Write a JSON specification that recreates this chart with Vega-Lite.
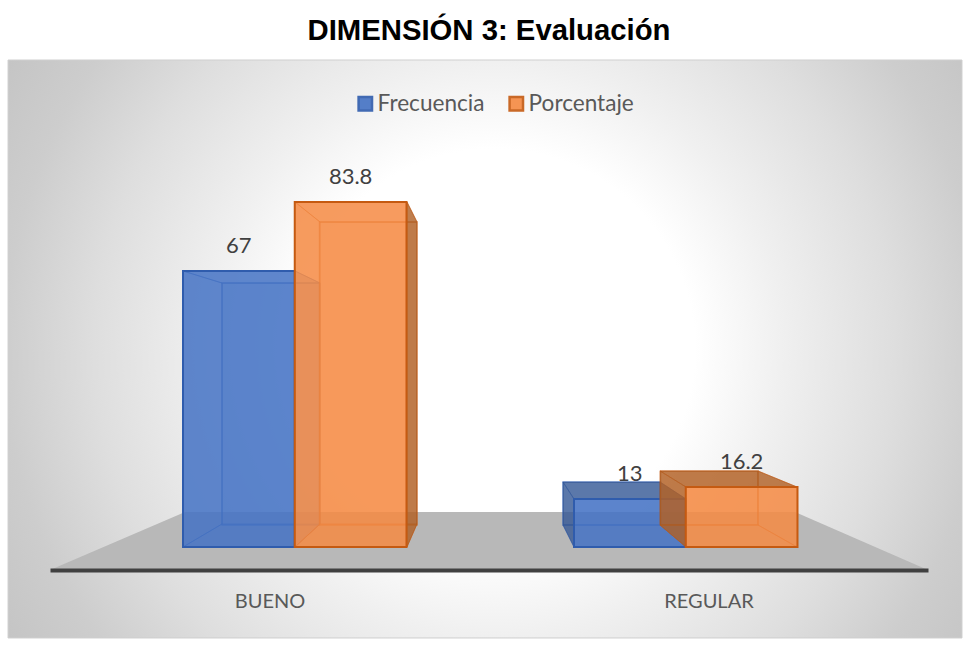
{"$schema":"https://vega.github.io/schema/vega-lite/v6.json","width":878,"height":510,"autosize":"none","padding":{"left":50,"top":60,"right":41,"bottom":76},"background":"#ffffff",
"config":{"view":{"stroke":null},"font":"Lato"},
"datasets":{
"bars":[{"cat":"BUENO","series":"Frecuencia","value":67},{"cat":"BUENO","series":"Porcentaje","value":83.8},{"cat":"REGULAR","series":"Frecuencia","value":13},{"cat":"REGULAR","series":"Porcentaje","value":16.2}],
"heading":[{"u":50,"v":105.7,"label":"DIMENSIÓN 3: Evaluación"}],
"panel":[{"u0":-4.78,"u1":103.87,"v0":-50.2,"v1":136.86}],
"border":[{"u0":-4.78,"u1":103.87,"v0":-13.33,"v1":100}],
"strips":[{"u0":-6,"u1":106,"v0":100,"v1":140},{"u0":-6,"u1":106,"v0":-60,"v1":-13.33}],
"floor":[{"u":0,"v":0,"b":0},{"u":15.38,"v":11.37,"b":0},{"u":84.85,"v":11.37,"b":0},{"u":100,"v":0,"b":0}],
"faces":[
{"cat":"BUENO","series":"Frecuencia","face":"top","k":1,"u":15.15,"v":58.63},{"cat":"BUENO","series":"Frecuencia","face":"top","k":2,"u":27.9,"v":58.63},{"cat":"BUENO","series":"Frecuencia","face":"top","k":3,"u":30.75,"v":56.27},{"cat":"BUENO","series":"Frecuencia","face":"top","k":4,"u":19.59,"v":56.27},
{"cat":"BUENO","series":"Frecuencia","face":"left","k":1,"u":15.15,"v":58.63},{"cat":"BUENO","series":"Frecuencia","face":"left","k":2,"u":19.59,"v":56.27},{"cat":"BUENO","series":"Frecuencia","face":"left","k":3,"u":19.59,"v":9.02},{"cat":"BUENO","series":"Frecuencia","face":"left","k":4,"u":15.15,"v":4.51},
{"cat":"BUENO","series":"Frecuencia","face":"right","k":1,"u":27.9,"v":58.63},{"cat":"BUENO","series":"Frecuencia","face":"right","k":2,"u":30.75,"v":56.27},{"cat":"BUENO","series":"Frecuencia","face":"right","k":3,"u":30.75,"v":9.02},{"cat":"BUENO","series":"Frecuencia","face":"right","k":4,"u":27.9,"v":4.51},
{"cat":"BUENO","series":"Frecuencia","face":"bottom","k":1,"u":15.15,"v":4.51},{"cat":"BUENO","series":"Frecuencia","face":"bottom","k":2,"u":27.9,"v":4.51},{"cat":"BUENO","series":"Frecuencia","face":"bottom","k":3,"u":30.75,"v":9.02},{"cat":"BUENO","series":"Frecuencia","face":"bottom","k":4,"u":19.59,"v":9.02},
{"cat":"BUENO","series":"Porcentaje","face":"top","k":1,"u":27.9,"v":72.16},{"cat":"BUENO","series":"Porcentaje","face":"top","k":2,"u":40.66,"v":72.16},{"cat":"BUENO","series":"Porcentaje","face":"top","k":3,"u":41.8,"v":68.24},{"cat":"BUENO","series":"Porcentaje","face":"top","k":4,"u":30.75,"v":68.24},
{"cat":"BUENO","series":"Porcentaje","face":"left","k":1,"u":27.9,"v":72.16},{"cat":"BUENO","series":"Porcentaje","face":"left","k":2,"u":30.75,"v":68.24},{"cat":"BUENO","series":"Porcentaje","face":"left","k":3,"u":30.75,"v":9.02},{"cat":"BUENO","series":"Porcentaje","face":"left","k":4,"u":27.9,"v":4.51},
{"cat":"BUENO","series":"Porcentaje","face":"right","k":1,"u":40.66,"v":72.16},{"cat":"BUENO","series":"Porcentaje","face":"right","k":2,"u":41.8,"v":68.24},{"cat":"BUENO","series":"Porcentaje","face":"right","k":3,"u":41.8,"v":9.02},{"cat":"BUENO","series":"Porcentaje","face":"right","k":4,"u":40.66,"v":4.51},
{"cat":"BUENO","series":"Porcentaje","face":"bottom","k":1,"u":27.9,"v":4.51},{"cat":"BUENO","series":"Porcentaje","face":"bottom","k":2,"u":40.66,"v":4.51},{"cat":"BUENO","series":"Porcentaje","face":"bottom","k":3,"u":41.8,"v":9.02},{"cat":"BUENO","series":"Porcentaje","face":"bottom","k":4,"u":30.75,"v":9.02},
{"cat":"REGULAR","series":"Frecuencia","face":"top","k":1,"u":59.68,"v":13.92},{"cat":"REGULAR","series":"Frecuencia","face":"top","k":2,"u":72.44,"v":13.92},{"cat":"REGULAR","series":"Frecuencia","face":"top","k":3,"u":69.48,"v":17.25},{"cat":"REGULAR","series":"Frecuencia","face":"top","k":4,"u":58.43,"v":17.25},
{"cat":"REGULAR","series":"Frecuencia","face":"left","k":1,"u":58.43,"v":17.25},{"cat":"REGULAR","series":"Frecuencia","face":"left","k":2,"u":59.68,"v":13.92},{"cat":"REGULAR","series":"Frecuencia","face":"left","k":3,"u":59.68,"v":4.51},{"cat":"REGULAR","series":"Frecuencia","face":"left","k":4,"u":58.43,"v":8.82},
{"cat":"REGULAR","series":"Frecuencia","face":"right","k":1,"u":72.44,"v":13.92},{"cat":"REGULAR","series":"Frecuencia","face":"right","k":2,"u":69.48,"v":17.25},{"cat":"REGULAR","series":"Frecuencia","face":"right","k":3,"u":69.48,"v":8.82},{"cat":"REGULAR","series":"Frecuencia","face":"right","k":4,"u":72.44,"v":4.51},
{"cat":"REGULAR","series":"Frecuencia","face":"bottom","k":1,"u":59.68,"v":4.51},{"cat":"REGULAR","series":"Frecuencia","face":"bottom","k":2,"u":72.44,"v":4.51},{"cat":"REGULAR","series":"Frecuencia","face":"bottom","k":3,"u":69.48,"v":8.82},{"cat":"REGULAR","series":"Frecuencia","face":"bottom","k":4,"u":58.43,"v":8.82},
{"cat":"REGULAR","series":"Porcentaje","face":"top","k":1,"u":72.44,"v":16.27},{"cat":"REGULAR","series":"Porcentaje","face":"top","k":2,"u":85.08,"v":16.27},{"cat":"REGULAR","series":"Porcentaje","face":"top","k":3,"u":80.64,"v":19.41},{"cat":"REGULAR","series":"Porcentaje","face":"top","k":4,"u":69.48,"v":19.41},
{"cat":"REGULAR","series":"Porcentaje","face":"left","k":1,"u":69.48,"v":19.41},{"cat":"REGULAR","series":"Porcentaje","face":"left","k":2,"u":72.44,"v":16.27},{"cat":"REGULAR","series":"Porcentaje","face":"left","k":3,"u":72.44,"v":4.51},{"cat":"REGULAR","series":"Porcentaje","face":"left","k":4,"u":69.48,"v":8.82},
{"cat":"REGULAR","series":"Porcentaje","face":"right","k":1,"u":85.08,"v":16.27},{"cat":"REGULAR","series":"Porcentaje","face":"right","k":2,"u":80.64,"v":19.41},{"cat":"REGULAR","series":"Porcentaje","face":"right","k":3,"u":80.64,"v":8.82},{"cat":"REGULAR","series":"Porcentaje","face":"right","k":4,"u":85.08,"v":4.51},
{"cat":"REGULAR","series":"Porcentaje","face":"bottom","k":1,"u":72.44,"v":4.51},{"cat":"REGULAR","series":"Porcentaje","face":"bottom","k":2,"u":85.08,"v":4.51},{"cat":"REGULAR","series":"Porcentaje","face":"bottom","k":3,"u":80.64,"v":8.82},{"cat":"REGULAR","series":"Porcentaje","face":"bottom","k":4,"u":69.48,"v":8.82}
]},
"resolve":{"scale":{"x":"independent","y":"independent","xOffset":"independent"},"axis":{"x":"independent","y":"independent"}},
"layer":[
{"data":{"name":"panel"},"mark":{"type":"rect","fill":{"gradient":"radial","x1":0.51,"y1":0.5,"r1":0,"x2":0.51,"y2":0.5,"r2":0.6,"stops":[{"offset":0,"color":"#ffffff"},{"offset":0.35,"color":"#ffffff"},{"offset":0.5,"color":"#f0f0f0"},{"offset":0.7,"color":"#dedede"},{"offset":0.857,"color":"#cdcdcd"},{"offset":1,"color":"#c4c4c4"}]}},
"encoding":{"x":{"field":"u0","type":"quantitative","scale":{"domain":[0,100],"nice":false,"zero":false},"axis":null},"x2":{"field":"u1"},"y":{"field":"v0","type":"quantitative","scale":{"domain":[0,100],"nice":false,"zero":false},"axis":null},"y2":{"field":"v1"}}},
{"data":{"name":"strips"},"mark":{"type":"rect","fill":"#ffffff"},
"encoding":{"x":{"field":"u0","type":"quantitative","scale":{"domain":[0,100],"nice":false,"zero":false},"axis":null},"x2":{"field":"u1"},"y":{"field":"v0","type":"quantitative","scale":{"domain":[0,100],"nice":false,"zero":false},"axis":null},"y2":{"field":"v1"}}},
{"data":{"name":"border"},"mark":{"type":"rect","fill":null,"filled":false,"stroke":"#cfcfcf","strokeWidth":1},
"encoding":{"x":{"field":"u0","type":"quantitative","scale":{"domain":[0,100],"nice":false,"zero":false},"axis":null},"x2":{"field":"u1"},"y":{"field":"v0","type":"quantitative","scale":{"domain":[0,100],"nice":false,"zero":false},"axis":null},"y2":{"field":"v1"}}},
{"data":{"name":"heading"},"mark":{"type":"text","font":"Liberation Sans","fontSize":29.3,"fontWeight":"bold","color":"#000000","align":"center","baseline":"middle"},
"encoding":{"text":{"field":"label","type":"nominal"},"x":{"field":"u","type":"quantitative","scale":{"domain":[0,100],"nice":false,"zero":false},"axis":null},"y":{"field":"v","type":"quantitative","scale":{"domain":[0,100],"nice":false,"zero":false},"axis":null}}},
{"data":{"name":"floor"},"mark":{"type":"area","color":"#b8b8b8"},
"encoding":{"x":{"field":"u","type":"quantitative","scale":{"domain":[0,100],"nice":false,"zero":false},"axis":null},"y":{"field":"v","type":"quantitative","scale":{"domain":[0,100],"nice":false,"zero":false},"axis":null},"y2":{"field":"b"}}},
{"data":{"name":"bars"},"mark":{"type":"text","text":" "},
"encoding":{"x":{"field":"cat","type":"nominal","scale":{"domain":["BUENO","REGULAR"]},"axis":{"title":null,"orient":"bottom","ticks":false,"labelAngle":0,"labelFont":"Lato","labelFontSize":20,"labelColor":"#595959","labelPadding":21,"domainColor":"#404040","domainWidth":4,"zindex":1,"grid":false}},"y":{"datum":0,"type":"quantitative","scale":{"domain":[0,100]},"axis":null}}},
{"data":{"name":"bars"},"mark":{"type":"text","dy":-25,"font":"Lato","fontSize":22,"color":"#404040"},
"encoding":{"text":{"field":"value","type":"quantitative"},
"x":{"field":"cat","type":"nominal","scale":{"type":"band","domain":["BUENO","REGULAR"],"range":[133,747.5],"paddingInner":0.4284,"paddingOuter":0},"axis":null},
"xOffset":{"field":"series","type":"nominal","scale":{"type":"band","domain":["Frecuencia","Porcentaje"],"padding":0},"bandPosition":0.5},
"y":{"field":"value","type":"quantitative","scale":{"domain":[0,13,16.2,67,83.8],"range":[487,439,427,211,142],"nice":false,"zero":false},"axis":null}}},

{"data":{"name":"bars"},"transform":[{"filter":"datum.series=='Frecuencia'"}],"mark":{"type":"bar","fillOpacity":0.35,"strokeOpacity":0.6,"strokeWidth":1.5},
"encoding":{"fill":{"field":"series","type":"nominal","title":null,"scale":{"domain":["Frecuencia","Porcentaje"],"range":["#4472C4","#F58A42"]},"legend":{"orient":"none","legendX":304,"legendY":32,"direction":"horizontal","columns":2,"columnPadding":19,"labelOffset":1,"symbolType":"square","symbolSize":180,"symbolStrokeWidth":2.5,"labelFont":"Lato","labelFontSize":22.6,"labelColor":"#595959","symbolOpacity":0.9}},"stroke":{"field":"series","type":"nominal","title":null,"scale":{"domain":["Frecuencia","Porcentaje"],"range":["#2F5CAD","#C55A11"]}},
"x":{"field":"cat","type":"nominal","scale":{"type":"band","domain":["BUENO","REGULAR"],"range":[172,708],"paddingInner":0.428,"paddingOuter":0},"axis":null},
"xOffset":{"field":"series","type":"nominal","scale":{"domain":["Frecuencia","Porcentaje"],"padding":0}},
"y":{"field":"value","type":"quantitative","scale":{"domain":[0,13,16.2,67,83.8],"range":[465,422,411,223,162],"nice":false,"zero":false},"axis":null}}},
{"data":{"name":"faces"},"transform":[{"filter":"datum.series=='Frecuencia'"}],"mark":{"type":"line","interpolate":"linear-closed","fill":"#4472C4","fillOpacity":0.25,"stroke":"#2F5CAD","strokeOpacity":0.5,"strokeWidth":1},
"encoding":{"detail":[{"field":"cat"},{"field":"face"}],"order":{"field":"k"},"x":{"field":"u","type":"quantitative","scale":{"domain":[0,100],"nice":false,"zero":false},"axis":null},"y":{"field":"v","type":"quantitative","scale":{"domain":[0,100],"nice":false,"zero":false},"axis":null}}},
{"data":{"name":"faces"},"transform":[{"filter":"datum.series=='Frecuencia' && datum.cat=='REGULAR' && (datum.face=='top' || datum.face=='left')"}],"mark":{"type":"line","interpolate":"linear-closed","fill":"#2f4f86","fillOpacity":0.6,"strokeOpacity":0},
"encoding":{"detail":[{"field":"face"}],"order":{"field":"k"},"x":{"field":"u","type":"quantitative","scale":{"domain":[0,100],"nice":false,"zero":false},"axis":null},"y":{"field":"v","type":"quantitative","scale":{"domain":[0,100],"nice":false,"zero":false},"axis":null}}},
{"data":{"name":"bars"},"transform":[{"filter":"datum.series=='Frecuencia'"}],"mark":{"type":"bar","fillOpacity":0.8,"strokeWidth":2},
"encoding":{"fill":{"field":"series","type":"nominal","title":null,"scale":{"domain":["Frecuencia","Porcentaje"],"range":["#4472C4","#F58A42"]}},"stroke":{"field":"series","type":"nominal","title":null,"scale":{"domain":["Frecuencia","Porcentaje"],"range":["#2F5CAD","#C55A11"]}},
"x":{"field":"cat","type":"nominal","scale":{"type":"band","domain":["BUENO","REGULAR"],"range":[133,747.5],"paddingInner":0.4284,"paddingOuter":0},"axis":null},
"xOffset":{"field":"series","type":"nominal","scale":{"domain":["Frecuencia","Porcentaje"],"padding":0}},
"y":{"field":"value","type":"quantitative","scale":{"domain":[0,13,16.2,67,83.8],"range":[487,439,427,211,142],"nice":false,"zero":false},"axis":null}}},

{"data":{"name":"bars"},"transform":[{"filter":"datum.series=='Porcentaje'"}],"mark":{"type":"bar","fillOpacity":0.35,"strokeOpacity":0.6,"strokeWidth":1.5},
"encoding":{"fill":{"field":"series","type":"nominal","title":null,"scale":{"domain":["Frecuencia","Porcentaje"],"range":["#4472C4","#F58A42"]}},"stroke":{"field":"series","type":"nominal","title":null,"scale":{"domain":["Frecuencia","Porcentaje"],"range":["#2F5CAD","#C55A11"]}},
"x":{"field":"cat","type":"nominal","scale":{"type":"band","domain":["BUENO","REGULAR"],"range":[172,708],"paddingInner":0.428,"paddingOuter":0},"axis":null},
"xOffset":{"field":"series","type":"nominal","scale":{"domain":["Frecuencia","Porcentaje"],"padding":0}},
"y":{"field":"value","type":"quantitative","scale":{"domain":[0,13,16.2,67,83.8],"range":[465,422,411,223,162],"nice":false,"zero":false},"axis":null}}},
{"data":{"name":"faces"},"transform":[{"filter":"datum.series=='Porcentaje'"}],"mark":{"type":"line","interpolate":"linear-closed","fill":"#F58A42","fillOpacity":0.25,"stroke":"#C55A11","strokeOpacity":0.5,"strokeWidth":1},
"encoding":{"detail":[{"field":"cat"},{"field":"face"}],"order":{"field":"k"},"x":{"field":"u","type":"quantitative","scale":{"domain":[0,100],"nice":false,"zero":false},"axis":null},"y":{"field":"v","type":"quantitative","scale":{"domain":[0,100],"nice":false,"zero":false},"axis":null}}},
{"data":{"name":"faces"},"transform":[{"filter":"datum.series=='Porcentaje' && ((datum.cat=='REGULAR' && (datum.face=='top' || datum.face=='left')) || (datum.cat=='BUENO' && datum.face=='right'))"}],"mark":{"type":"line","interpolate":"linear-closed","fill":"#a0541c","fillOpacity":0.65,"strokeOpacity":0},
"encoding":{"detail":[{"field":"cat"},{"field":"face"}],"order":{"field":"k"},"x":{"field":"u","type":"quantitative","scale":{"domain":[0,100],"nice":false,"zero":false},"axis":null},"y":{"field":"v","type":"quantitative","scale":{"domain":[0,100],"nice":false,"zero":false},"axis":null}}},
{"data":{"name":"bars"},"transform":[{"filter":"datum.series=='Porcentaje'"}],"mark":{"type":"bar","fillOpacity":0.8,"strokeWidth":2},
"encoding":{"fill":{"field":"series","type":"nominal","title":null,"scale":{"domain":["Frecuencia","Porcentaje"],"range":["#4472C4","#F58A42"]}},"stroke":{"field":"series","type":"nominal","title":null,"scale":{"domain":["Frecuencia","Porcentaje"],"range":["#2F5CAD","#C55A11"]}},
"x":{"field":"cat","type":"nominal","scale":{"type":"band","domain":["BUENO","REGULAR"],"range":[133,747.5],"paddingInner":0.4284,"paddingOuter":0},"axis":null},
"xOffset":{"field":"series","type":"nominal","scale":{"domain":["Frecuencia","Porcentaje"],"padding":0}},
"y":{"field":"value","type":"quantitative","scale":{"domain":[0,13,16.2,67,83.8],"range":[487,439,427,211,142],"nice":false,"zero":false},"axis":null}}}
]}
